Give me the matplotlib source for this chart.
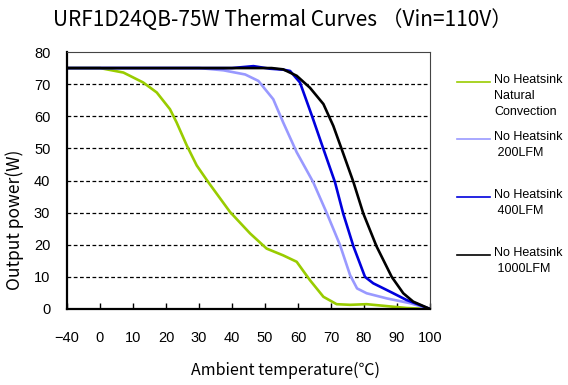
import numpy as np
import matplotlib.pyplot as plt
from matplotlib.lines import Line2D

# temperature (C) / output power (W)
natural_t = [-40, 0, 7.1, 13.1, 17.2, 21.2, 23.2, 26.3, 29.3, 32.8, 39.4, 45.5, 50.5, 55.5, 59.6, 63.6, 67.7, 71.7, 75.8, 80.8, 86.9, 93, 100]
natural_p = [75, 75, 73.6, 70.5, 67.4, 62.2, 58.1, 50.9, 44.7, 39.5, 30.2, 23.5, 18.8, 16.7, 14.7, 9.0, 3.8, 1.5, 1.3, 1.5, 0.9, 0.3, 0]

lfm200_t = [-40, 30, 37.4, 44, 48, 52.5, 55.5, 59.6, 64.6, 68.7, 72.7, 75.8, 77.9, 80.8, 86.9, 94, 100]
lfm200_p = [75, 75, 74.3, 73, 71, 65.3, 58.1, 48.8, 39.5, 29.9, 20, 10.5, 6.4, 4.9, 3.3, 1.8, 0]

lfm400_t = [-40, 40, 46.5, 51.5, 55.5, 57.6, 60.6, 64.2, 67.7, 71.2, 73.7, 76.8, 80.3, 82.8, 87.9, 92.9, 100]
lfm400_p = [75, 75, 75.6, 74.8, 74.5, 74.1, 70.5, 60.2, 49.8, 39.5, 29.7, 19.5, 10, 8, 5.4, 2.8, 0]

lfm1000_t = [-40, 52, 55.5, 59.6, 63.6, 67.7, 70.7, 73.5, 76.8, 79.8, 83.8, 88.4, 91.9, 94.9, 100]
lfm1000_p = [75, 75, 74.6, 72.6, 68.9, 63.8, 57, 49, 39.5, 29.7, 19.5, 10, 4.9, 2.3, 0]

x_ticks = [-40, 0, 10, 20, 30, 40, 50, 60, 70, 80, 90, 100]
y_ticks = [0, 10, 20, 30, 40, 50, 60, 70, 80]

series = [
    (natural_t, natural_p, '#99cc00', 'No Heatsink\nNatural\nConvection'),
    (lfm200_t, lfm200_p, '#9999ff', 'No Heatsink\n 200LFM'),
    (lfm400_t, lfm400_p, '#0000dd', 'No Heatsink\n 400LFM'),
    (lfm1000_t, lfm1000_p, '#000000', 'No Heatsink\n 1000LFM'),
]


# the x axis is categorical in the original: -40 sits one step left of 0
def fwd(t):
    t = np.asarray(t, dtype=float)
    return np.where(t < 0, 1 + t / 40.0, 1 + t / 10.0)


def inv(p):
    p = np.asarray(p, dtype=float)
    return np.where(p < 1, 40.0 * (p - 1), 10.0 * (p - 1))


W, H = 568, 385
fig = plt.figure(figsize=(W / 100, H / 100), dpi=100)
ax = fig.add_axes([67 / W, 1 - 309 / H, (430 - 67) / W, (309 - 52) / H])
ax.set_xscale('function', functions=(fwd, inv))

for t, p, c, lab in series:
    ax.plot(t, p, color=c, lw=1.9, solid_joinstyle='round', solid_capstyle='round')

ax.set_xlim(-40, 100)
ax.set_ylim(0, 80)
ax.set_xticks(x_ticks)
ax.set_yticks(y_ticks)
ax.tick_params(axis='x', direction='in', length=4, width=1, pad=16, labelsize=10.5)
ax.tick_params(axis='y', length=0, pad=12, labelsize=10.5)
for lbl in ax.get_xticklabels() + ax.get_yticklabels():
    lbl.set_family('Liberation Sans')

for y in y_ticks[1:-1]:
    ax.axhline(y, color='black', lw=0.9, ls=(0, (3, 2)), zorder=0)

for s in ['left', 'bottom']:
    ax.spines[s].set_linewidth(1.6)
for s in ['top', 'right']:
    ax.spines[s].set_linewidth(0.8)
    ax.spines[s].set_color('#444444')

rfont = ['Noto Sans CJK SC', 'DejaVu Sans']
fig.text(283 / W, 1 - 20 / H, 'URF1D24QB-75W Thermal Curves （Vin=110V）',
         ha='center', va='center', fontsize=15, family=rfont)
fig.text(285 / W, 1 - 370 / H, 'Ambient temperature(℃)', ha='center', va='center',
         fontsize=11.5, family=rfont)
fig.text(15 / W, 1 - 220 / H, 'Output power(W)', ha='center', va='center',
         rotation=90, fontsize=12.5, family=rfont)

# legend drawn by hand on the right side
leg_y = [82, 139, 197, 255]
for (t, p, c, lab), ly in zip(series, leg_y):
    fig.add_artist(Line2D([457 / W, 490 / W], [1 - ly / H, 1 - ly / H],
                          color=c, lw=1.2, transform=fig.transFigure))
    fig.text(494 / W, 1 - (ly - 8) / H, lab, ha='left', va='top', fontsize=9,
             family='Liberation Sans', linespacing=1.45)

fig.savefig('out.png', dpi=100)
